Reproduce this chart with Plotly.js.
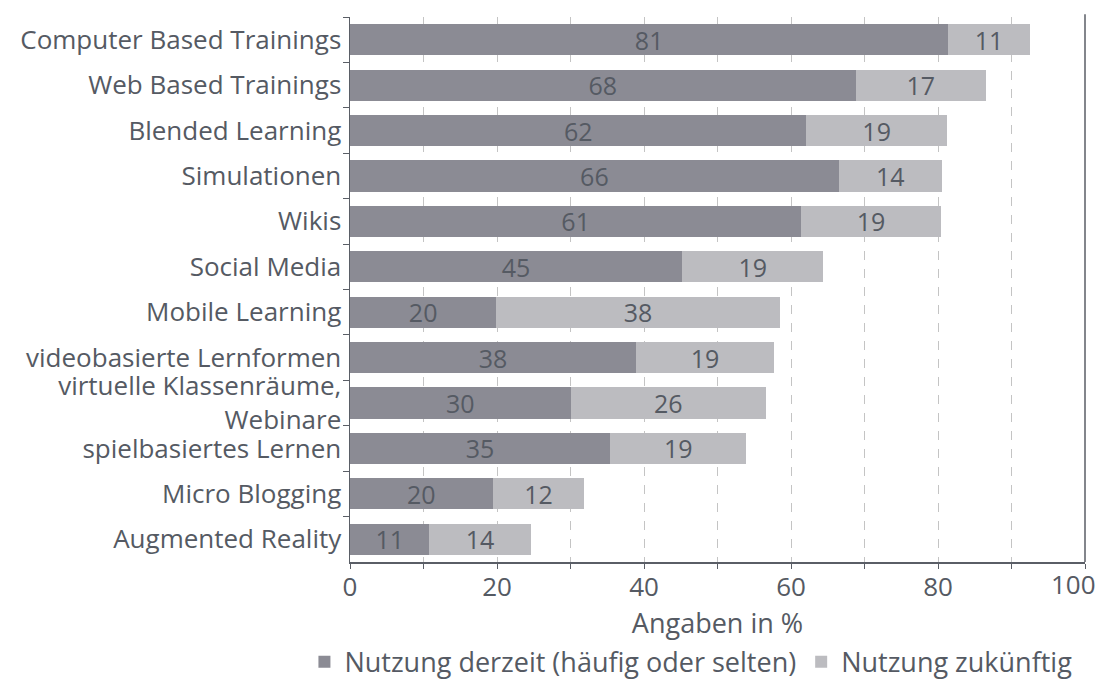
<!DOCTYPE html>
<html>
<head>
<meta charset="utf-8">
<script src="https://cdn.plot.ly/plotly-3.0.1.min.js"></script>
<style>html,body{margin:0;padding:0;background:#fff;}#chart{width:1108px;height:682px;}</style>
</head>
<body>
<div id="chart"></div>
<script>
const categories = [
  "Computer Based Trainings",
  "Web Based Trainings",
  "Blended Learning",
  "Simulationen",
  "Wikis",
  "Social Media",
  "Mobile Learning",
  "videobasierte Lernformen",
  "virtuelle Klassenräume,<br>Webinare",
  "spielbasiertes Lernen",
  "Micro Blogging",
  "Augmented Reality"
];
const derzeitValues = [81.4, 68.8, 62.1, 66.5, 61.4, 45.2, 19.9, 38.9, 30.0, 35.4, 19.4, 10.8];
const derzeitLabels = ["81", "68", "62", "66", "61", "45", "20", "38", "30", "35", "20", "11"];
const zukuenftigValues = [11.1, 17.7, 19.1, 14.0, 19.0, 19.2, 38.6, 18.8, 26.6, 18.5, 12.5, 13.8];
const zukuenftigLabels = ["11", "17", "19", "14", "19", "19", "38", "19", "26", "19", "12", "14"];
const xTickVals = [0, 10, 20, 30, 40, 50, 60, 70, 80, 90, 100];
const xTickText = ["0", "", "20", "", "40", "", "60", "", "80", "", ""];
const xLastTickValue = 100;
const xLastTickText = "100";

const FONT = "Open Sans, Noto Sans, sans-serif";
const TXT = "#555a63";
const AX = "#5a5e66";

const traces = [
  {
    type: "bar", orientation: "h", name: "Nutzung derzeit (häufig oder selten)",
    y: categories, x: derzeitValues, text: derzeitLabels,
    textposition: "inside", insidetextanchor: "middle", constraintext: "none", textangle: 0,
    textfont: {family: FONT, size: 25, color: TXT},
    marker: {color: "#8b8b94"}, hoverinfo: "skip"
  },
  {
    type: "bar", orientation: "h", name: "Nutzung zukünftig",
    y: categories, x: zukuenftigValues, text: zukuenftigLabels,
    textposition: "inside", insidetextanchor: "middle", constraintext: "none", textangle: 0,
    textfont: {family: FONT, size: 25, color: TXT},
    marker: {color: "#bcbcc0"}, hoverinfo: "skip"
  }
];

const layout = {
  width: 1108, height: 682,
  margin: {l: 350, r: 23, t: 17, b: 120, autoexpand: false},
  barmode: "stack", bargap: 0.315,
  paper_bgcolor: "#fff", plot_bgcolor: "#fff",
  font: {family: FONT, color: TXT, size: 26},
  showlegend: true,
  legend: {
    orientation: "h", x: -0.062, xref: "paper", xanchor: "left",
    y: -0.184, yref: "paper", yanchor: "middle",
    font: {family: FONT, size: 27, color: TXT}, tracegroupgap: 0,
    traceorder: "normal"
  },
  xaxis: {
    range: [0, 100], tickvals: xTickVals, ticktext: xTickText,
    showgrid: true, gridcolor: "#c4c4c4", griddash: "dash", gridwidth: 1,
    zeroline: false, showline: true, linecolor: AX, linewidth: 1.5,
    ticks: "outside", ticklen: 5, tickcolor: AX, tickwidth: 1,
    ticklabelstandoff: -4,
    tickfont: {family: FONT, size: 26, color: TXT},
    title: {text: "Angaben in %", font: {family: FONT, size: 27, color: TXT}, standoff: 6},
    fixedrange: true
  },
  yaxis: {
    autorange: "reversed", type: "category",
    showline: true, linecolor: AX, linewidth: 1.5,
    ticks: "outside", ticklen: 6, tickcolor: AX, tickson: "boundaries",
    showgrid: false, zeroline: false,
    tickfont: {family: FONT, size: 26, color: TXT},
    ticklabelstandoff: 2,
    fixedrange: true
  },
  annotations: [
    {x: xLastTickValue, xref: "x", y: 0, yref: "paper", yanchor: "top", xanchor: "right",
     xshift: 13, yshift: -2, text: xLastTickText, showarrow: false,
     font: {family: FONT, size: 26, color: TXT}}
  ],
  shapes: [
    {type: "line", xref: "paper", yref: "paper", x0: 1, x1: 1, y0: 0, y1: 1.005,
     line: {color: AX, width: 1.5}}
  ]
};

Plotly.newPlot("chart", traces, layout, {displayModeBar: false, staticPlot: true});
</script>
</body>
</html>
